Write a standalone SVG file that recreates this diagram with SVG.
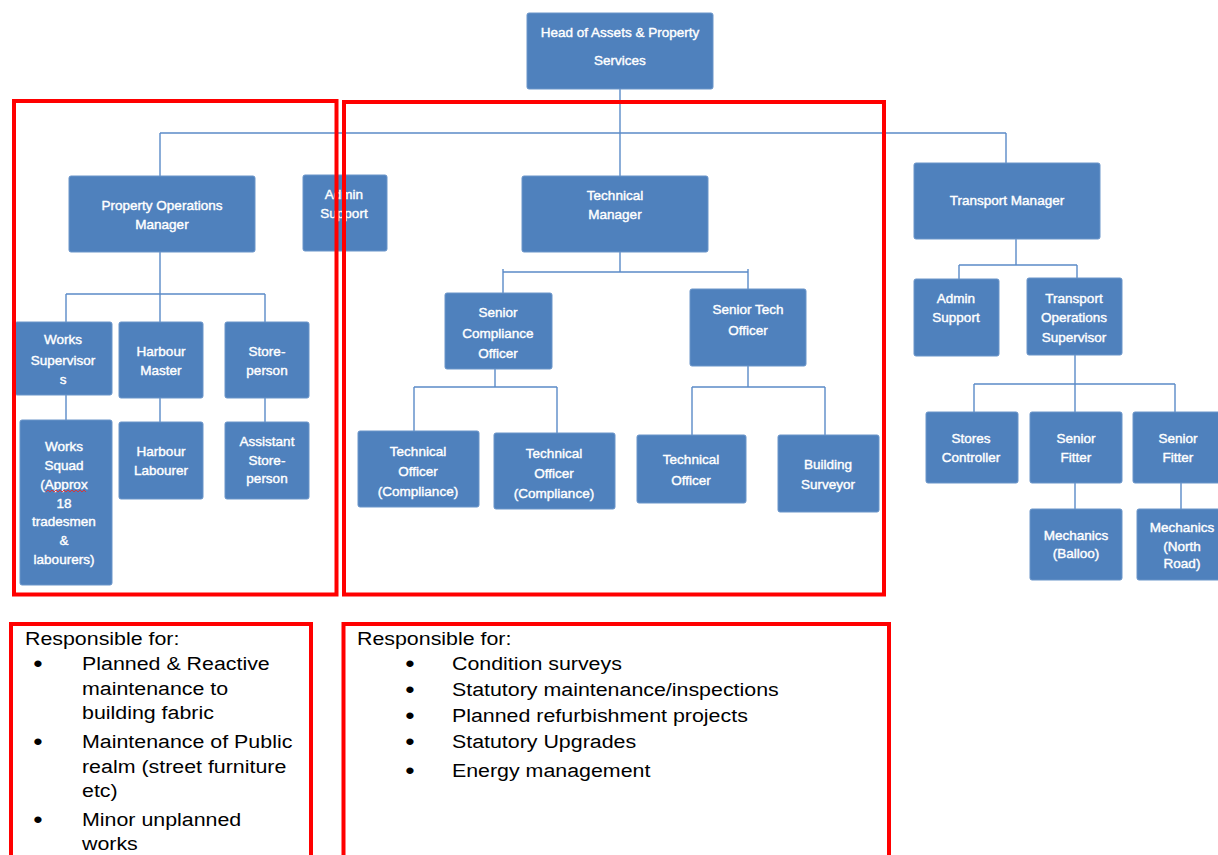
<svg xmlns="http://www.w3.org/2000/svg" width="1218" height="855" viewBox="0 0 1218 855">
  <style>
    .box { fill: #4F81BD; stroke: #6a95c9; stroke-width: 1; }
    .t { font-family: "Liberation Sans", Arial, sans-serif; font-size: 13.5px; fill: #ffffff; stroke: #ffffff; stroke-width: 0.4; text-anchor: middle; }
    .conn path { fill: none; stroke: #5b8bc8; stroke-width: 1.4; }
    .frame { fill: none; stroke: #ff0000; stroke-width: 4; }
    .note { font-family: "Liberation Sans", Arial, sans-serif; font-size: 18.6px; fill: #000000; }
    .bul { text-anchor: middle; font-size: 22px; font-weight: bold; }
  </style>

  <rect width="1218" height="855" fill="#ffffff"/>

  <!-- reporting lines -->
  <g id="connectors" class="conn">
    <path d="M620,89 V176"/>
    <path d="M160,133 H1006 M160,133 V176 M1006,133 V163"/>
    <path d="M160,252 V294 M66,294 H265 M66,294 V322 M160,294 V322 M265,294 V322"/>
    <path d="M66,395 V420 M160,398 V422 M265,398 V422"/>
    <path d="M620,252 V272 M503,272 H748 M503,269 V293 M748,269 V289"/>
    <path d="M495,369 V387 M414,387 H557 M414,387 V431 M557,387 V433"/>
    <path d="M748,366 V387 M692,387 H825 M692,387 V435 M825,387 V435"/>
    <path d="M1016,239 V265 M959,265 H1077 M959,265 V279 M1077,265 V278"/>
    <path d="M1075,355 V384 M974,384 H1175 M974,384 V412 M1075,384 V412 M1175,384 V412"/>
    <path d="M1075,483 V509 M1181,483 V509"/>
  </g>

  <g id="head">
    <rect class="box" x="527" y="13" width="186" height="76" rx="2"/>
    <text class="t" x="620" y="37">Head of Assets &amp; Property</text>
    <text class="t" x="620" y="65">Services</text>
  </g>
  <g id="property-ops-manager">
    <rect class="box" x="69" y="176" width="186" height="76" rx="2"/>
    <text class="t" x="162" y="210">Property Operations</text>
    <text class="t" x="162" y="229">Manager</text>
  </g>
  <g id="admin-support-1">
    <rect class="box" x="303" y="175" width="84" height="76" rx="2"/>
    <text class="t" x="344" y="199">Admin</text>
    <text class="t" x="344" y="218">Support</text>
  </g>
  <g id="technical-manager">
    <rect class="box" x="522" y="176" width="186" height="76" rx="2"/>
    <text class="t" x="615" y="200">Technical</text>
    <text class="t" x="615" y="219">Manager</text>
  </g>
  <g id="transport-manager">
    <rect class="box" x="914" y="163" width="186" height="76" rx="2"/>
    <text class="t" x="1007" y="205">Transport Manager</text>
  </g>

  <g id="works-supervisors">
    <rect class="box" x="15" y="322" width="97" height="73" rx="2"/>
    <text class="t" x="63" y="344">Works</text>
    <text class="t" x="63" y="365">Supervisor</text>
    <text class="t" x="63" y="384">s</text>
  </g>
  <g id="harbour-master">
    <rect class="box" x="119" y="322" width="84" height="76" rx="2"/>
    <text class="t" x="161" y="356">Harbour</text>
    <text class="t" x="161" y="375">Master</text>
  </g>
  <g id="store-person">
    <rect class="box" x="225" y="322" width="84" height="76" rx="2"/>
    <text class="t" x="267" y="356">Store-</text>
    <text class="t" x="267" y="375">person</text>
  </g>
  <g id="works-squad">
    <rect class="box" x="20" y="420" width="92" height="165" rx="2"/>
    <text class="t" x="64" y="451">Works</text>
    <text class="t" x="64" y="470">Squad</text>
    <text class="t" x="64" y="489">(Approx</text>
    <path d="M46,492 l2,-2 l2,2 l2,-2 l2,2 l2,-2 l2,2 l2,-2 l2,2 l2,-2 l2,2 l2,-2 l2,2 l2,-2 l2,2 l2,-2 l2,2 l2,-2 l2,2 l2,-2 l2,2" fill="none" stroke="#e03030" stroke-width="0.9"/>
    <text class="t" x="64" y="508">18</text>
    <text class="t" x="64" y="526">tradesmen</text>
    <text class="t" x="64" y="545">&amp;</text>
    <text class="t" x="64" y="564">labourers)</text>
  </g>
  <g id="harbour-labourer">
    <rect class="box" x="119" y="422" width="84" height="77" rx="2"/>
    <text class="t" x="161" y="456">Harbour</text>
    <text class="t" x="161" y="475">Labourer</text>
  </g>
  <g id="assistant-store-person">
    <rect class="box" x="225" y="422" width="84" height="77" rx="2"/>
    <text class="t" x="267" y="446">Assistant</text>
    <text class="t" x="267" y="465">Store-</text>
    <text class="t" x="267" y="483">person</text>
  </g>

  <g id="senior-compliance-officer">
    <rect class="box" x="445" y="293" width="107" height="76" rx="2"/>
    <text class="t" x="498" y="317">Senior</text>
    <text class="t" x="498" y="338">Compliance</text>
    <text class="t" x="498" y="358">Officer</text>
  </g>
  <g id="senior-tech-officer">
    <rect class="box" x="690" y="289" width="116" height="77" rx="2"/>
    <text class="t" x="748" y="314">Senior Tech</text>
    <text class="t" x="748" y="335">Officer</text>
  </g>
  <g id="technical-officer-compliance-1">
    <rect class="box" x="358" y="431" width="121" height="76" rx="2"/>
    <text class="t" x="418" y="456">Technical</text>
    <text class="t" x="418" y="476">Officer</text>
    <text class="t" x="418" y="496">(Compliance)</text>
  </g>
  <g id="technical-officer-compliance-2">
    <rect class="box" x="494" y="433" width="121" height="76" rx="2"/>
    <text class="t" x="554" y="458">Technical</text>
    <text class="t" x="554" y="478">Officer</text>
    <text class="t" x="554" y="498">(Compliance)</text>
  </g>
  <g id="technical-officer">
    <rect class="box" x="637" y="435" width="109" height="68" rx="2"/>
    <text class="t" x="691" y="464">Technical</text>
    <text class="t" x="691" y="485">Officer</text>
  </g>
  <g id="building-surveyor">
    <rect class="box" x="778" y="435" width="101" height="77" rx="2"/>
    <text class="t" x="828" y="469">Building</text>
    <text class="t" x="828" y="489">Surveyor</text>
  </g>

  <g id="admin-support-2">
    <rect class="box" x="914" y="279" width="85" height="77" rx="2"/>
    <text class="t" x="956" y="303">Admin</text>
    <text class="t" x="956" y="322">Support</text>
  </g>
  <g id="transport-ops-supervisor">
    <rect class="box" x="1027" y="278" width="95" height="77" rx="2"/>
    <text class="t" x="1074" y="303">Transport</text>
    <text class="t" x="1074" y="322">Operations</text>
    <text class="t" x="1074" y="342">Supervisor</text>
  </g>
  <g id="stores-controller">
    <rect class="box" x="926" y="412" width="92" height="71" rx="2"/>
    <text class="t" x="971" y="443">Stores</text>
    <text class="t" x="971" y="462">Controller</text>
  </g>
  <g id="senior-fitter-1">
    <rect class="box" x="1030" y="412" width="92" height="71" rx="2"/>
    <text class="t" x="1076" y="443">Senior</text>
    <text class="t" x="1076" y="462">Fitter</text>
  </g>
  <g id="senior-fitter-2">
    <rect class="box" x="1133" y="412" width="92" height="71" rx="2"/>
    <text class="t" x="1178" y="443">Senior</text>
    <text class="t" x="1178" y="462">Fitter</text>
  </g>
  <g id="mechanics-balloo">
    <rect class="box" x="1030" y="509" width="92" height="71" rx="2"/>
    <text class="t" x="1076" y="540">Mechanics</text>
    <text class="t" x="1076" y="558">(Balloo)</text>
  </g>
  <g id="mechanics-north-road">
    <rect class="box" x="1137" y="509" width="90" height="71" rx="2"/>
    <text class="t" x="1182" y="532">Mechanics</text>
    <text class="t" x="1182" y="551">(North</text>
    <text class="t" x="1182" y="568">Road)</text>
  </g>

  <!-- section outlines -->
  <g id="frames">
    <rect class="frame" x="14" y="101" width="322.5" height="493.5"/>
    <rect class="frame" x="344" y="102" width="540" height="492.5"/>
    <rect class="frame" x="11" y="624" width="300" height="260"/>
    <rect class="frame" x="343.5" y="624" width="545.5" height="260"/>
  </g>

  <!-- responsibilities -->
  <g id="responsibilities" class="note" transform="scale(1.15,1)">
    <text x="21.7" y="645">Responsible for:</text>
    <text class="bul" x="33" y="671">•</text>
    <text x="71.3" y="670">Planned &amp; Reactive</text>
    <text x="71.3" y="695">maintenance to</text>
    <text x="71.3" y="719">building fabric</text>
    <text class="bul" x="33" y="749">•</text>
    <text x="71.3" y="748">Maintenance of Public</text>
    <text x="71.3" y="773">realm (street furniture</text>
    <text x="71.3" y="797">etc)</text>
    <text class="bul" x="33" y="827">•</text>
    <text x="71.3" y="826">Minor unplanned</text>
    <text x="71.3" y="850">works</text>

    <text x="310.4" y="645">Responsible for:</text>
    <text class="bul" x="356.5" y="671">•</text>
    <text x="393" y="670">Condition surveys</text>
    <text class="bul" x="356.5" y="697">•</text>
    <text x="393" y="696">Statutory maintenance/inspections</text>
    <text class="bul" x="356.5" y="723">•</text>
    <text x="393" y="722">Planned refurbishment projects</text>
    <text class="bul" x="356.5" y="749">•</text>
    <text x="393" y="748">Statutory Upgrades</text>
    <text class="bul" x="356.5" y="778">•</text>
    <text x="393" y="777">Energy management</text>
  </g>
</svg>
